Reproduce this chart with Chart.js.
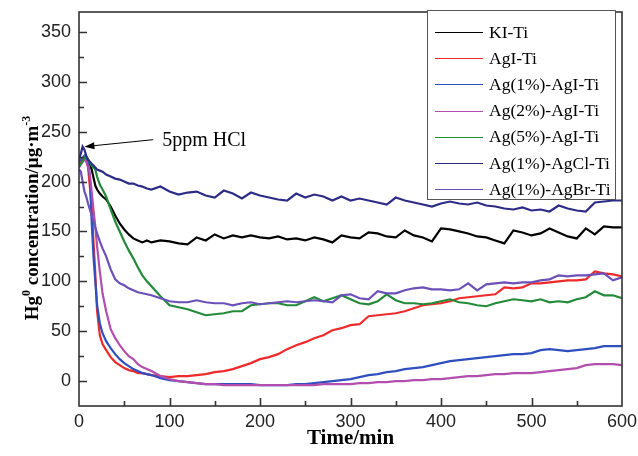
<!DOCTYPE html>
<html lang="en">
<head>
<meta charset="UTF-8">
<title>Hg0 concentration vs time</title>
<script src="https://cdn.jsdelivr.net/npm/chart.js"></script>
<style>
  body { margin: 0; background: #fff; }
  canvas { display: block; }
</style>
</head>
<body>
<canvas id="hgChart" width="638" height="456"></canvas>
<script>
// sampling times (min)
const times = [0,2,4,6,8,10,12,14,16,18,20,23,26,30,35,40,45,50,55,60,65,70,75,80,
  90,100,110,120,130,140,150,160,170,180,190,200,210,220,230,240,250,260,270,280,290,300,
  310,320,330,340,350,360,370,380,390,400,410,420,430,440,450,460,470,480,490,500,
  510,520,530,540,550,560,570,580,590,600];

// Hg0 concentration, ug/m3
const kiTi = [218,220,222,225,224,222,218,212,204,196,192,188,185,182,175,166,158,152,147,143,141,139,141,139,
  141,140,138,137,144,141,147,143,146,144,146,144,143,145,142,143,141,144,142,139,146,144,
  143,149,148,145,144,151,146,144,140,153,152,150,148,145,144,141,138,151,149,146,
  148,153,149,145,143,153,147,155,154,154];
const agiTi = [218,220,222,225,222,214,195,174,140,108,70,46,37,31,24,19,16,13,11,10,8,8,7,6,
  5,4,5,5,6,7,9,10,12,15,18,22,24,27,32,36,39,43,46,51,53,56,
  57,65,66,67,68,70,73,76,77,78,80,83,84,85,86,87,94,93,94,98,
  98,99,100,101,101,102,110,108,107,105];
const ag1AgiTi = [220,222,224,226,224,218,205,160,125,100,76,58,48,40,33,27,22,18,15,12,10,8,7,6,
  3,1,0,-1,-2,-3,-3,-3,-3,-3,-3,-4,-4,-4,-4,-3,-3,-2,-1,0,1,2,
  4,6,7,9,10,12,13,14,16,18,20,21,22,23,24,25,26,27,27,28,
  31,32,31,30,31,32,33,35,35,35];
const ag2AgiTi = [214,217,220,222,220,215,208,190,172,155,135,110,88,70,52,43,36,30,25,22,17,14,12,10,
  5,2,0,-1,-2,-3,-3,-4,-4,-4,-4,-4,-4,-4,-4,-4,-4,-4,-3,-3,-3,-3,
  -2,-2,-1,-1,0,0,1,1,2,2,3,4,5,5,6,7,7,8,8,8,
  9,10,11,12,13,16,17,17,17,16];
const ag5AgiTi = [215,218,220,224,225,222,219,216,214,212,205,197,192,185,172,160,150,140,131,123,114,106,100,95,
  85,76,74,72,69,66,67,68,70,70,76,77,78,78,76,76,80,84,80,83,86,82,
  78,77,80,87,81,78,78,77,78,80,82,79,78,76,75,78,80,82,81,80,
  82,79,80,79,82,84,90,86,86,83];
const ag1AgclTi = [222,228,235,232,226,222,220,218,216,214,212,211,210,207,205,203,202,200,198,198,196,195,193,192,
  195,190,187,189,190,186,184,191,188,183,189,186,184,182,181,188,184,187,185,181,185,181,
  183,181,179,177,184,181,179,177,175,178,180,178,177,179,176,175,173,172,174,171,
  172,170,176,173,171,170,179,180,181,181];
const ag1AgbrTi = [212,210,200,190,185,178,172,166,160,154,148,140,133,125,112,102,98,96,93,91,89,88,87,86,
  83,80,79,79,81,79,78,78,76,78,79,77,78,79,80,79,80,81,80,79,86,87,
  83,82,90,88,88,91,93,94,92,92,91,92,98,91,97,98,99,98,99,99,
  101,102,106,105,106,106,107,108,101,104];

const seriesNames = ['KI-Ti','AgI-Ti','Ag(1%)-AgI-Ti','Ag(2%)-AgI-Ti','Ag(5%)-AgI-Ti','Ag(1%)-AgCl-Ti','Ag(1%)-AgBr-Ti'];
const xTicks = [0,100,200,300,400,500,600];
const yTicks = [0,50,100,150,200,250,300,350];

const SERIF = '"Liberation Serif", "Times New Roman", serif';
const SANS = '"Liberation Sans", Arial, sans-serif';

function toPoints(vals) {
  return times.map((t, i) => ({ x: t, y: vals[i] }));
}

const allSeries = [kiTi, agiTi, ag1AgiTi, ag2AgiTi, ag5AgiTi, ag1AgclTi, ag1AgbrTi];
const colors = ['#000000', '#ee2a2a', '#2f4fbf', '#b24eae', '#238a3a', '#2c2b86', '#6a50b8'];

const datasets = allSeries.map((vals, i) => ({
  label: seriesNames[i],
  data: toPoints(vals),
  borderColor: colors[i],
  borderWidth: 2.2,
  pointRadius: 0,
  fill: false,
  tension: 0,
  order: -i
}));

// frame, inward ticks, axis titles, arrow note and boxed legend
const decor = {
  id: 'decor',
  afterDraw(chart) {
    const { ctx, chartArea: a, scales: { x, y } } = chart;
    ctx.save();

    ctx.strokeStyle = '#333';
    ctx.lineWidth = 1.6;
    ctx.strokeRect(a.left, a.top, a.right - a.left, a.bottom - a.top);

    ctx.beginPath();
    for (let v = 50; v < 600; v += 50) {
      const px = Math.round(x.getPixelForValue(v)) + 0.5;
      const len = v % 100 === 0 ? 8 : 5;
      ctx.moveTo(px, a.bottom);
      ctx.lineTo(px, a.bottom - len);
    }
    for (let v = 0; v <= 350; v += 25) {
      const py = Math.round(y.getPixelForValue(v)) + 0.5;
      const len = v % 50 === 0 ? 8 : 5;
      ctx.moveTo(a.left, py);
      ctx.lineTo(a.left + len, py);
    }
    ctx.stroke();

    // x title
    ctx.fillStyle = '#000';
    ctx.font = 'bold 21px ' + SERIF;
    ctx.textAlign = 'center';
    ctx.textBaseline = 'middle';
    ctx.fillText('Time/min', (a.left + a.right) / 2, 439);

    // y title with superscripts
    const parts = [
      { t: 'Hg', sup: false },
      { t: '0', sup: true },
      { t: ' concentration/\u03bcg\u00b7m', sup: false },
      { t: '-3', sup: true }
    ];
    const big = 'bold 19px ' + SERIF, small = 'bold 12px ' + SERIF;
    let w = 0;
    parts.forEach(p => { ctx.font = p.sup ? small : big; p.w = ctx.measureText(p.t).width; w += p.w; });
    ctx.translate(31, 218);
    ctx.rotate(-Math.PI / 2);
    ctx.textAlign = 'left';
    ctx.textBaseline = 'alphabetic';
    let cx = -w / 2;
    parts.forEach(p => {
      ctx.font = p.sup ? small : big;
      ctx.fillText(p.t, cx, p.sup ? -1 : 7);
      cx += p.w;
    });
    ctx.setTransform(1, 0, 0, 1, 0, 0);

    // HCl note
    const tipX = x.getPixelForValue(6), tipY = y.getPixelForValue(235);
    const tailX = x.getPixelForValue(82), tailY = y.getPixelForValue(242);
    const ang = Math.atan2(tipY - tailY, tipX - tailX);
    ctx.strokeStyle = '#000';
    ctx.lineWidth = 1;
    ctx.beginPath();
    ctx.moveTo(tailX, tailY);
    ctx.lineTo(tipX - 6 * Math.cos(ang), tipY - 6 * Math.sin(ang));
    ctx.stroke();
    ctx.fillStyle = '#000';
    ctx.beginPath();
    ctx.moveTo(tipX, tipY);
    ctx.lineTo(tipX - 10 * Math.cos(ang) + 3.5 * Math.sin(ang), tipY - 10 * Math.sin(ang) - 3.5 * Math.cos(ang));
    ctx.lineTo(tipX - 10 * Math.cos(ang) - 3.5 * Math.sin(ang), tipY - 10 * Math.sin(ang) + 3.5 * Math.cos(ang));
    ctx.closePath();
    ctx.fill();
    ctx.font = '20px ' + SERIF;
    ctx.textAlign = 'left';
    ctx.textBaseline = 'middle';
    ctx.fillText('5ppm HCl', x.getPixelForValue(92), y.getPixelForValue(241));

    // legend box
    const lx = 427, ly = 10, lw = 188, lh = 189;
    ctx.fillStyle = '#fff';
    ctx.fillRect(lx, ly, lw, lh);
    ctx.strokeStyle = '#555';
    ctx.lineWidth = 1;
    ctx.strokeRect(lx + 0.5, ly + 0.5, lw, lh);
    ctx.font = '17.5px ' + SERIF;
    ctx.textBaseline = 'middle';
    chart.data.datasets.forEach((ds, i) => {
      const ry = 32 + i * 26.2;
      ctx.strokeStyle = ds.borderColor;
      ctx.lineWidth = 1;
      ctx.beginPath();
      ctx.moveTo(435, Math.round(ry) + 0.5);
      ctx.lineTo(483, Math.round(ry) + 0.5);
      ctx.stroke();
      ctx.fillStyle = '#000';
      ctx.fillText(ds.label, 489, ry + 1);
    });
    ctx.restore();
  }
};

new Chart(document.getElementById('hgChart'), {
  type: 'line',
  data: { datasets },
  options: {
    responsive: false,
    animation: false,
    devicePixelRatio: 1,
    layout: { padding: { top: 12, right: 16, left: 0, bottom: 0 } },
    plugins: { legend: { display: false }, tooltip: { enabled: false } },
    scales: {
      x: {
        type: 'linear',
        min: 0,
        max: 600,
        grid: { display: false, drawTicks: false },
        border: { display: false },
        ticks: { font: { family: SANS, size: 18 }, color: '#222', padding: 5, maxRotation: 0, autoSkip: false },
        afterBuildTicks: s => { s.ticks = xTicks.map(v => ({ value: v })); },
        afterFit: s => { s.height = 50; s.paddingLeft = 0; s.paddingRight = 0; }
      },
      y: {
        type: 'linear',
        min: -25,
        max: 370,
        grid: { display: false, drawTicks: false },
        border: { display: false },
        ticks: { font: { family: SANS, size: 18 }, color: '#222', padding: 8, autoSkip: false },
        afterBuildTicks: s => { s.ticks = yTicks.map(v => ({ value: v })); },
        afterFit: s => { s.width = 79; s.paddingTop = 0; s.paddingBottom = 0; }
      }
    }
  },
  plugins: [decor]
});
</script>
</body>
</html>
